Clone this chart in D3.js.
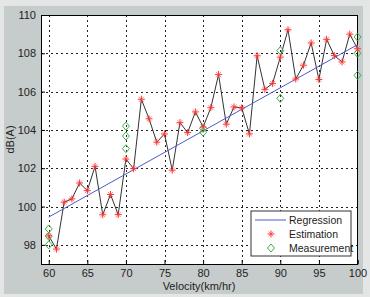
<!DOCTYPE html>
<html>
<head>
<meta charset="utf-8">
<script src="https://cdn.jsdelivr.net/npm/d3@7"></script>
<style>
  body { margin: 0; background: #fff; }
  svg { display: block; font-family: "Liberation Sans", Arial, sans-serif; }
</style>
</head>
<body>
<div class="chart"></div>
<script>
// chart data
const velocity = d3.range(60, 101);
const estimation = [98.47, 97.78, 100.23, 100.4, 101.23, 100.83, 102.1, 99.57, 100.63, 99.58,
  102.48, 101.98, 105.6, 104.58, 103.36, 103.79, 101.9, 104.38, 103.86, 104.94,
  104.15, 105.16, 106.89, 104.3, 105.2, 105.15, 103.79, 107.87, 106.12, 106.43,
  107.8, 109.23, 106.66, 107.38, 108.54, 106.63, 108.73, 107.88, 107.55, 109.0, 108.24];
const measureX = [60, 60, 60, 70, 70, 70, 80, 80, 90, 90, 100, 100, 100];
const measureY = [98.83, 98.45, 98.0, 104.2, 103.68, 103.02, 104.08, 103.88, 108.14, 105.65, 108.85, 108.0, 106.85];
const regressionX = [60, 100];
const regressionY = [99.45, 108.45];
const xTicks = [60, 65, 70, 75, 80, 85, 90, 95, 100];
const yTicks = [98, 100, 102, 104, 106, 108, 110];
const legendLabels = ["Regression", "Estimation", "Measurement"];

const W = 370, H = 297;
const svg = d3.select(".chart").append("svg").attr("width", W).attr("height", H);

// figure background
svg.append("rect").attr("width", W).attr("height", H).attr("fill", "#e4e6e6");
svg.append("rect").attr("x", 4).attr("y", 6).attr("width", 359).attr("height", 288).attr("fill", "#c6cccb");

const pLeft = 41, pRight = 357.5, pTop = 15, pBottom = 264;
const x = d3.scaleLinear().domain([59, 100]).range([pLeft, pRight]);
const y = d3.scaleLinear().domain([97, 110]).range([pBottom, pTop]);

svg.append("rect").attr("x", pLeft).attr("y", pTop).attr("width", pRight - pLeft).attr("height", pBottom - pTop).attr("fill", "#fff");

// dotted grid
const grid = svg.append("g").attr("stroke", "#222").attr("stroke-width", 1).attr("stroke-dasharray", "2,3");
grid.selectAll(".vx").data(xTicks.filter(d => d < 100)).enter().append("line")
  .attr("x1", d => Math.round(x(d)) + 0.5).attr("x2", d => Math.round(x(d)) + 0.5)
  .attr("y1", pTop).attr("y2", pBottom);
grid.selectAll(".hy").data(yTicks.filter(d => d < 110)).enter().append("line")
  .attr("y1", d => Math.round(y(d)) + 0.5).attr("y2", d => Math.round(y(d)) + 0.5)
  .attr("x1", pLeft).attr("x2", pRight);

// axes
const xAxis = svg.append("g").attr("transform", `translate(0,${pBottom})`)
  .call(d3.axisBottom(x).tickValues(xTicks).tickSize(-4).tickPadding(5));
const yAxis = svg.append("g").attr("transform", `translate(${pLeft},0)`)
  .call(d3.axisLeft(y).tickValues(yTicks).tickSize(-4).tickPadding(5));
[xAxis, yAxis].forEach(a => {
  a.select(".domain").attr("stroke", "#000");
  a.selectAll("line").attr("stroke", "#000");
  a.selectAll("text").attr("font-size", 11).attr("fill", "#222").attr("font-family", "Liberation Sans, Arial, sans-serif");
});
// top and right box
svg.append("line").attr("x1", pLeft).attr("x2", pRight).attr("y1", pTop + 0.5).attr("y2", pTop + 0.5).attr("stroke", "#000");
svg.append("line").attr("x1", pRight).attr("x2", pRight).attr("y1", pTop).attr("y2", pBottom).attr("stroke", "#000");

// estimation line
const pts = velocity.map((v, i) => [v, estimation[i]]);
svg.append("path").datum(pts)
  .attr("fill", "none").attr("stroke", "#333").attr("stroke-width", 1)
  .attr("d", d3.line().x(d => x(d[0])).y(d => y(d[1])));

// regression line
svg.append("path").datum(regressionX.map((v, i) => [v, regressionY[i]]))
  .attr("fill", "none").attr("stroke", "#4d5bc8").attr("stroke-width", 1)
  .attr("d", d3.line().x(d => x(d[0])).y(d => y(d[1])));

// marker helpers
function star(g, cx, cy) {
  const s = g.append("g").attr("transform", `translate(${cx},${cy})`)
    .attr("stroke", "#f33").attr("stroke-width", 1);
  s.append("line").attr("x1", -3.5).attr("x2", 3.5);
  s.append("line").attr("y1", -3.5).attr("y2", 3.5);
  s.append("line").attr("x1", -2.5).attr("x2", 2.5).attr("y1", -2.5).attr("y2", 2.5).attr("stroke-opacity", 0.6);
  s.append("line").attr("x1", -2.5).attr("x2", 2.5).attr("y1", 2.5).attr("y2", -2.5).attr("stroke-opacity", 0.6);
}
function diamond(g, cx, cy) {
  g.append("path").attr("transform", `translate(${cx},${cy})`)
    .attr("d", "M0,-4L3.5,0L0,4L-3.5,0Z")
    .attr("fill", "none").attr("stroke", "#3cb04a").attr("stroke-width", 1);
}

const marks = svg.append("g");
measureX.forEach((v, i) => diamond(marks, x(v), y(measureY[i])));
pts.forEach(d => star(marks, x(d[0]), y(d[1])));

// axis labels
svg.append("text").attr("x", 199).attr("y", 290).attr("text-anchor", "middle")
  .attr("font-size", 11).attr("fill", "#222").text("Velocity(km/hr)");
svg.append("text").attr("transform", `translate(14,${(pTop + pBottom) / 2}) rotate(-90)`)
  .attr("text-anchor", "middle").attr("font-size", 11).attr("fill", "#222").text("dB(A)");

// legend
const lg = svg.append("g");
lg.append("rect").attr("x", 251).attr("y", 211).attr("width", 100).attr("height", 45)
  .attr("fill", "#fff").attr("stroke", "#333");
const ly = [220, 234, 248];
lg.append("line").attr("x1", 255).attr("x2", 286).attr("y1", ly[0]).attr("y2", ly[0])
  .attr("stroke", "#4d5bc8");
star(lg, 271, ly[1]);
diamond(lg, 271, ly[2]);
lg.selectAll("text").data(legendLabels).enter().append("text")
  .attr("x", 289).attr("y", (d, i) => ly[i] + 4)
  .attr("font-size", 10.5).attr("fill", "#222").text(d => d);
</script>
</body>
</html>
